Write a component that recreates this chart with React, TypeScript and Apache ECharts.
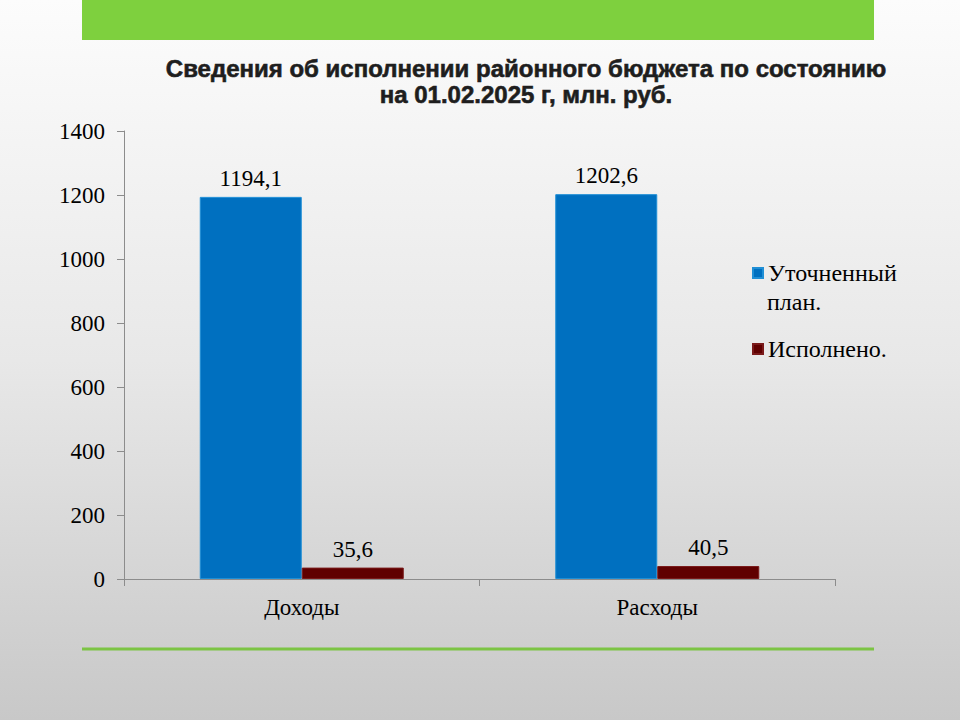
import React, { useEffect, useRef } from "react";
import * as echarts from "echarts";

const categories = ["Доходы", "Расходы"];
const planValues = [1194.1, 1202.6];
const doneValues = [35.6, 40.5];
const seriesNames = ["Уточненный план.", "Исполнено."];
const titleLines = [
  "Сведения об исполнении районного бюджета по состоянию",
  "на 01.02.2025 г, млн. руб.",
];

const fmt = (v: number) => v.toFixed(1).replace(".", ",");

export default function App() {
  const ref = useRef<HTMLDivElement>(null);
  useEffect(() => {
    if (!ref.current) return;
    const chart = echarts.init(ref.current, undefined, { renderer: "svg" });
    const serif = "'Liberation Serif', 'DejaVu Serif', serif";
    const legendText = {
      fontFamily: serif,
      fontSize: 24,
      color: "#000",
    };
    chart.setOption({
      animation: false,
      backgroundColor: {
        type: "linear",
        x: 0,
        y: 0,
        x2: 0,
        y2: 1,
        colorStops: [
          { offset: 0, color: "#fcfcfc" },
          { offset: 0.5, color: "#e8e8e8" },
          { offset: 1, color: "#c8c8c8" },
        ],
      },
      title: {
        text: titleLines.join("\n"),
        left: 521,
        top: 50,
        textAlign: "center",
        textStyle: {
          fontFamily: "'Liberation Sans', Arial, sans-serif",
          fontWeight: "bold",
          fontSize: 24,
          lineHeight: 26,
          color: "#1e1e1e",
          textBorderColor: "#1e1e1e",
          textBorderWidth: 0.6,
        },
      },
      graphic: [
        {
          type: "rect",
          shape: { x: 82, y: 0, width: 792, height: 40 },
          style: { fill: "#7ed03e" },
          silent: true,
        },
        {
          type: "rect",
          shape: { x: 82, y: 647.5, width: 792, height: 3 },
          style: { fill: "#7cc444" },
          silent: true,
        },
        {
          type: "text",
          x: 767,
          y: 302,
          style: {
            text: "план.",
            fontFamily: serif,
            fontSize: 24,
            fill: "#000",
            verticalAlign: "middle",
          },
          silent: true,
        },
      ],
      legend: [
        {
          orient: "vertical",
          left: 752,
          top: 261,
          padding: 0,
          itemWidth: 10,
          itemHeight: 10,
          icon: "rect",
          data: [{ name: seriesNames[0] }],
          formatter: () => "Уточненный",
          textStyle: legendText,
        },
        {
          orient: "vertical",
          left: 752,
          top: 337,
          padding: 0,
          itemWidth: 10,
          itemHeight: 10,
          icon: "rect",
          data: [{ name: seriesNames[1] }],
          textStyle: legendText,
        },
      ],
      grid: {
        left: 124,
        top: 131,
        width: 711,
        height: 448,
        containLabel: false,
      },
      xAxis: {
        type: "category",
        data: categories,
        axisLine: { lineStyle: { color: "#8c8c8c", width: 1 } },
        axisTick: { show: true, length: 7, lineStyle: { color: "#8c8c8c" } },
        axisLabel: {
          fontFamily: serif,
          fontSize: 23,
          color: "#000",
          margin: 17,
        },
      },
      yAxis: {
        type: "value",
        min: 0,
        max: 1400,
        interval: 200,
        axisLine: { show: true, lineStyle: { color: "#8c8c8c", width: 1 } },
        axisTick: { show: true, length: 7, lineStyle: { color: "#8c8c8c" } },
        splitLine: { show: false },
        axisLabel: {
          fontFamily: serif,
          fontSize: 23,
          color: "#000",
          margin: 19,
          formatter: (v: number) => String(v),
        },
      },
      series: [
        {
          name: seriesNames[0],
          type: "bar",
          data: planValues,
          barWidth: 102,
          barGap: "0%",
          itemStyle: {
            color: "#0070c0",
            borderColor: "#1f8fd6",
            borderWidth: 1,
          },
          label: {
            show: true,
            position: "top",
            distance: 7,
            formatter: (p: any) => fmt(p.value),
            fontFamily: serif,
            fontSize: 23,
            color: "#000",
          },
        },
        {
          name: seriesNames[1],
          type: "bar",
          data: doneValues,
          barWidth: 102,
          barGap: "0%",
          itemStyle: {
            color: "#600000",
            borderColor: "#7a1a1a",
            borderWidth: 1,
          },
          label: {
            show: true,
            position: "top",
            distance: 7,
            formatter: (p: any) => fmt(p.value),
            fontFamily: serif,
            fontSize: 23,
            color: "#000",
          },
        },
      ],
    });
    return () => chart.dispose();
  }, []);
  return (
    <div
      ref={ref}
      style={{ position: "absolute", left: 0, top: 0, width: 960, height: 720 }}
    />
  );
}
